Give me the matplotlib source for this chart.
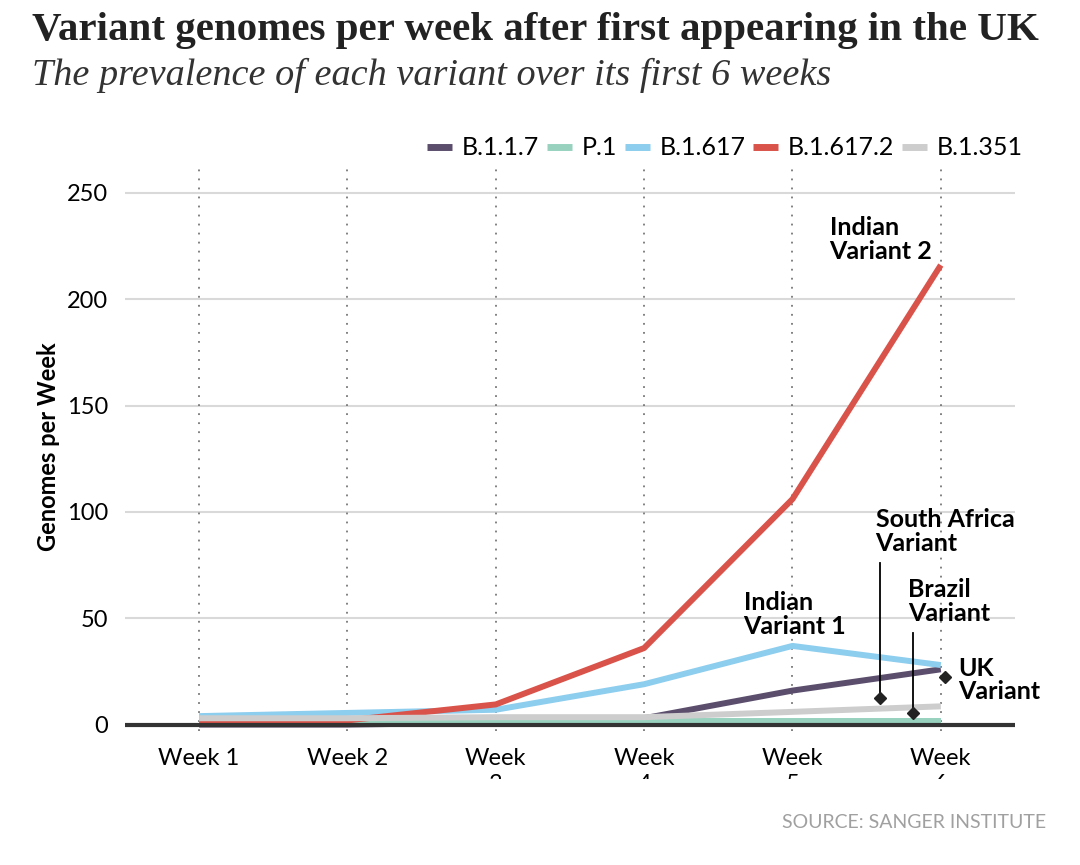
import matplotlib
matplotlib.use("Agg")
import matplotlib.pyplot as plt
from matplotlib.transforms import Bbox, TransformedBbox, blended_transform_factory

# data ------------------------------------------------------------
weeks = [1, 2, 3, 4, 5, 6]
week_labels = ["Week 1", "Week 2", "Week\n3", "Week\n4", "Week\n5", "Week\n6"]
b117 = [0, 0, 1, 3, 16, 26]
p1 = [1.5, 1.5, 1.5, 1.5, 1.5, 1.5]
b1617 = [4, 5.5, 7, 19, 37, 28]
b16172 = [1, 2, 9.5, 36, 106, 216]
b1351 = [3, 3, 3.5, 3.5, 6, 8.6]
series = ["B.1.1.7", "P.1", "B.1.617", "B.1.617.2", "B.1.351"]
colors = ["#5b4e6d", "#98d2bf", "#8dcdee", "#d9534a", "#cdcdcd"]

SANS = ["Lato", "DejaVu Sans"]
SERIF = ["Liberation Serif", "DejaVu Serif"]

fig = plt.figure(figsize=(10.8, 8.65), dpi=100)
ax = fig.add_axes([0.1157, 0.1549, 0.8241, 0.6567])

# gridlines + dotted week lines
for v in [50, 100, 150, 200, 250]:
    ax.axhline(v, color="#d9d9d9", lw=1.5, zorder=0)
for w in weeks:
    ax.axvline(w, color="#777777", lw=1.3, ls=(0, (1, 4)), zorder=0)
ax.axhline(0, color="#333333", lw=3, zorder=5)

order = [4, 1, 0, 2, 3]  # draw gray/green first, red on top
data = [b117, p1, b1617, b16172, b1351]
lines = {}
for i in order:
    ln, = ax.plot(weeks, data[i], color=colors[i], lw=4.3, solid_joinstyle="round",
                  solid_capstyle="butt", zorder=3 + i * 0.1, label=series[i])
    lines[i] = ln

ax.set_xlim(0.5, 6.5)
ax.set_ylim(-3, 264)
for s in ax.spines.values():
    s.set_visible(False)
ax.set_xticks([])
ax.set_yticks([0, 50, 100, 150, 200, 250])
ax.tick_params(axis="y", length=0, pad=12, labelsize=17)
for t in ax.get_yticklabels():
    t.set_family(SANS)
ax.set_ylabel("Genomes per Week", family=SANS, fontsize=17, fontweight="bold", labelpad=5)

# week labels, second line cut off like the original
clip = TransformedBbox(Bbox([[0, 0.099], [1, 1]]), fig.transFigure)
tr = blended_transform_factory(ax.transData, ax.transAxes)
for w, lab in zip(weeks, week_labels):
    t = ax.text(w, -0.03, lab, transform=tr, ha="center", va="top", family=SANS,
                fontsize=17, linespacing=1.3, clip_on=True)
    t.set_clip_box(clip)

# legend
handles = [lines[i] for i in range(5)]
leg = fig.legend(handles, series, loc="center right", bbox_to_anchor=(0.968, 0.829), ncol=5,
                 frameon=False, handlelength=1.0, handletextpad=0.4, columnspacing=0.3,
                 prop={"family": SANS, "size": 18})
for h in leg.legend_handles:
    h.set_linewidth(5)

# annotations
lab = dict(family=SANS, fontsize=18, fontweight="bold", va="top", ha="left", linespacing=1.05)
ax.text(5.25, 239, "Indian\nVariant 2", **lab)
ax.text(4.67, 63, "Indian\nVariant 1", **lab)
ax.text(5.56, 102, "South Africa\nVariant", **lab)
ax.text(5.78, 69, "Brazil\nVariant", **lab)
ax.text(6.12, 32, "UK\nVariant", **lab)
ax.plot([5.59, 5.59], [76, 12.7], color="black", lw=1.3, zorder=6)
ax.plot([5.81, 5.81], [43, 5.6], color="black", lw=1.3, zorder=6)
ax.plot([5.59, 5.81, 6.03], [12.7, 5.6, 22.5], ls="none", marker="D", ms=6,
        color="#222222", zorder=7, clip_on=False)

# titles
fig.text(0.03, 0.965, "Variant genomes per week after first appearing in the UK", family=SERIF,
         fontsize=29.5, fontweight="bold", va="center", ha="left", color="#222222")
fig.text(0.03, 0.913, "The prevalence of each variant over its first 6 weeks", family=SERIF,
         fontsize=27.5, style="italic", va="center", ha="left", color="#333333")
fig.text(0.969, 0.049, "SOURCE: SANGER INSTITUTE", family=SANS, fontsize=14, color="#a0a0a0",
         ha="right", va="center")

fig.savefig("out.png", dpi=100)
